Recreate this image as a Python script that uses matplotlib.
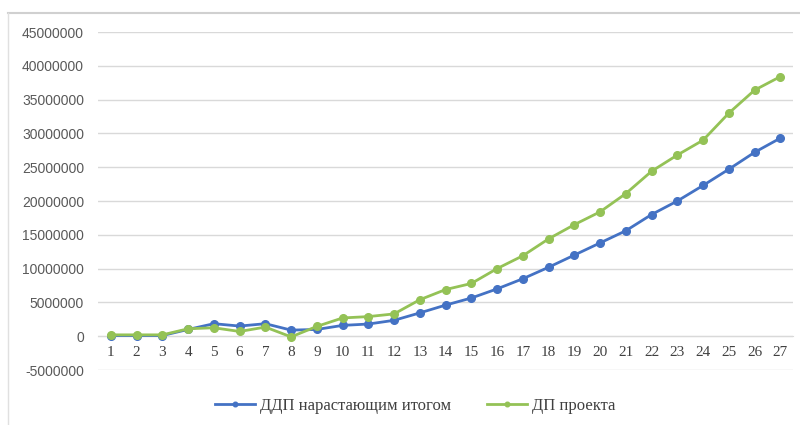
import matplotlib
matplotlib.use("Agg")
import matplotlib.pyplot as plt
from matplotlib.lines import Line2D
from matplotlib.font_manager import FontProperties

periods = list(range(1, 28))
ddp_cum = [0.1, 0.1, 0.1, 1.0, 1.85, 1.5, 1.85, 0.9, 1.0, 1.6, 1.8, 2.35, 3.45, 4.6,
           5.65, 7.0, 8.5, 10.2, 12.0, 13.8, 15.6, 18.0, 20.0, 22.3, 24.7, 27.2, 29.3]
dp_project = [0.2, 0.2, 0.2, 1.1, 1.25, 0.7, 1.35, -0.1, 1.45, 2.7, 2.9, 3.3, 5.4, 6.9,
              7.8, 10.0, 11.9, 14.4, 16.5, 18.4, 21.1, 24.4, 26.8, 29.0, 33.0, 36.4, 38.4]
ddp_cum = [v * 1e6 for v in ddp_cum]
dp_project = [v * 1e6 for v in dp_project]
y_ticks = list(range(-5000000, 45000001, 5000000))
series_names = ["ДДП нарастающим итогом", "ДП проекта"]

blue = "#4472C4"
green = "#94C256"

fig = plt.figure(figsize=(8, 4.25), dpi=100)
ax = fig.add_axes([0.1225, 0.1294, 0.869, 0.7953])

ax.plot(periods, ddp_cum, color=blue, lw=2.0, marker="o", ms=5.5, label=series_names[0], zorder=3)
ax.plot(periods, dp_project, color=green, lw=2.0, marker="o", ms=5.5, label=series_names[1], zorder=4)

ax.set_xlim(0.5, 27.5)
ax.set_ylim(-5000000, 45000000)
ax.set_yticks(y_ticks)
ax.set_yticklabels([str(v) for v in y_ticks], fontsize=10, color="#595959", family="Liberation Sans")
ax.grid(axis="y", color="#D9D9D9", lw=1)
ax.set_axisbelow(True)
for s in ["top", "right", "left"]:
    ax.spines[s].set_visible(False)
ax.spines["bottom"].set_position(("data", 0))
ax.spines["bottom"].set_color("#D9D9D9")
ax.tick_params(axis="y", length=0, pad=10)
ax.tick_params(axis="x", length=0, pad=7)
ax.set_xticks(periods)
ax.set_xticklabels([str(p) for p in periods], fontsize=11, color="#404040", family="Liberation Serif")

legend_font = FontProperties(family="Liberation Serif", size=12)
leg = fig.legend(loc="center", bbox_to_anchor=(0.519, 0.045), ncol=2, frameon=False,
                 prop=legend_font, handlelength=2.4, handletextpad=0.3,
                 columnspacing=2.2, markerscale=0.6)
for t in leg.get_texts():
    t.set_color("#404040")
    t.set_fontproperties(legend_font)

# outer chart frame (partially cropped)
fig.add_artist(Line2D([8/800, 1], [1 - 13/425, 1 - 13/425], transform=fig.transFigure, color="#D0D0D0", lw=1.5))
fig.add_artist(Line2D([8/800, 8/800], [0, 1 - 13/425], transform=fig.transFigure, color="#E0E0E0", lw=1))

fig.savefig("out.png", dpi=100)
